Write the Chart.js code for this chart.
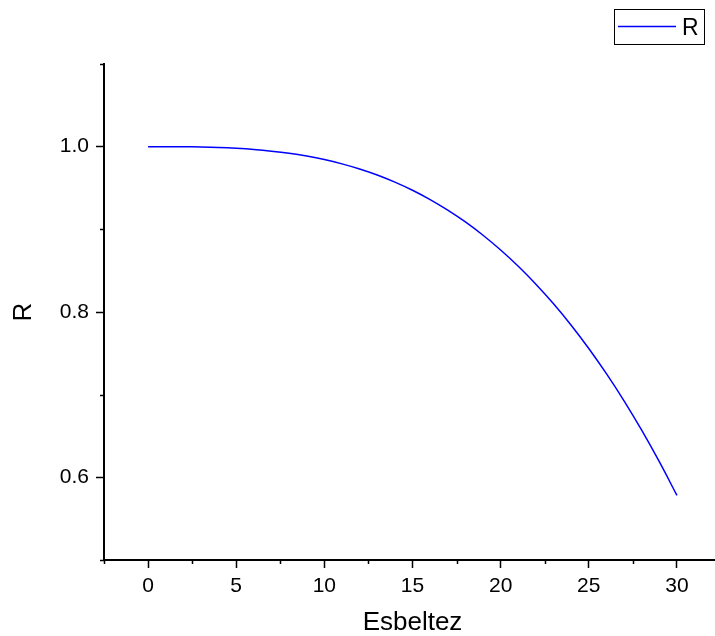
<!DOCTYPE html>
<html>
<head>
<meta charset="utf-8">
<script src="https://cdn.jsdelivr.net/npm/chart.js@4/dist/chart.umd.min.js"></script>
<style>
  html, body { margin: 0; padding: 0; background: #fff; overflow: hidden; }
  #wrap { width: 730px; height: 636px; }
</style>
</head>
<body>
<div id="wrap"><canvas id="rChart" width="730" height="636"></canvas></div>
<script>
// --- Data ---
const seriesName = 'R';
const esbeltez = [0, 1, 2, 3, 4, 5, 6, 7, 8, 9, 10, 11, 12, 13, 14, 15, 16, 17, 18, 19, 20,
                  21, 22, 23, 24, 25, 26, 27, 28, 29, 30];
const rValues = [1.0000, 1.0000, 0.9999, 0.9996, 0.9990, 0.9980, 0.9966, 0.9946, 0.9920, 0.9886,
                 0.9844, 0.9792, 0.9730, 0.9657, 0.9571, 0.9473, 0.9360, 0.9232, 0.9089, 0.8928,
                 0.8750, 0.8553, 0.8336, 0.8099, 0.7840, 0.7559, 0.7254, 0.6925, 0.6570, 0.6189,
                 0.5781];
const xMajorLabels = [0, 5, 10, 15, 20, 25, 30];
const yMajorLabels = ['0.6', '0.8', '1.0'];

const FONT = '"Liberation Sans", Arial, sans-serif';

// --- Helpers ---
function isXMajor(v) {
    return xMajorLabels.includes(Math.round(v * 10) / 10);
}
function isYMajor(v) {
    return yMajorLabels.includes(v.toFixed(1));
}

// --- Plugin: short minor ticks + boxed legend ---
const extrasPlugin = {
    id: 'extras',
    afterDraw(chart) {
        const ctx = chart.ctx;
        const xs = chart.scales.x;
        const ys = chart.scales.y;
        ctx.save();
        ctx.strokeStyle = '#000';
        ctx.lineWidth = 1.5;
        xs.ticks.forEach(t => {
            if (isXMajor(t.value)) return;
            const px = Math.round(xs.getPixelForValue(t.value)) + 0.5;
            ctx.beginPath();
            ctx.moveTo(px, ys.bottom);
            ctx.lineTo(px, ys.bottom + 4);
            ctx.stroke();
        });
        ys.ticks.forEach(t => {
            if (isYMajor(t.value)) return;
            const py = Math.round(ys.getPixelForValue(t.value)) + 0.5;
            ctx.beginPath();
            ctx.moveTo(xs.left, py);
            ctx.lineTo(xs.left - 4, py);
            ctx.stroke();
        });

        // legend box
        const ds = chart.data.datasets[0];
        ctx.lineWidth = 1;
        ctx.strokeRect(614.5, 9.5, 90, 35);
        ctx.strokeStyle = ds.borderColor;
        ctx.lineWidth = 1.5;
        ctx.beginPath();
        ctx.moveTo(618, 26.5);
        ctx.lineTo(676, 26.5);
        ctx.stroke();
        ctx.fillStyle = '#000';
        ctx.font = '23px ' + FONT;
        ctx.textBaseline = 'alphabetic';
        ctx.fillText(ds.label, 682, 35);
        ctx.restore();
    }
};

const ctx = document.getElementById('rChart').getContext('2d');
const rChart = new Chart(ctx, {
    type: 'line',
    data: {
        labels: esbeltez,
        datasets: [{
            label: seriesName,
            data: esbeltez.map((x, i) => ({ x: x, y: rValues[i] })),
            borderColor: '#0000ff',
            borderWidth: 1.5,
            pointRadius: 0,
            fill: false,
            tension: 0.4
        }]
    },
    options: {
        responsive: false,
        animation: false,
        layout: { padding: { top: 64, left: 0, right: 9, bottom: 0 } },
        plugins: {
            legend: { display: false },
            tooltip: { enabled: false }
        },
        scales: {
            x: {
                type: 'linear',
                min: -2.5,
                max: 32.5,
                afterFit: s => { s.height = 76; },
                border: { display: true, color: '#000', width: 2 },
                grid: {
                    drawOnChartArea: false,
                    drawTicks: true,
                    tickLength: 8,
                    tickWidth: 1.5,
                    tickColor: c => (c.tick && isXMajor(c.tick.value)) ? '#000' : 'rgba(0,0,0,0)'
                },
                ticks: {
                    stepSize: 2.5,
                    padding: 6,
                    color: '#000',
                    font: { family: FONT, size: 21 },
                    maxRotation: 0,
                    autoSkip: false,
                    callback: v => isXMajor(v) ? String(Math.round(v)) : ''
                },
                title: {
                    display: true,
                    text: 'Esbeltez',
                    color: '#000',
                    font: { family: FONT, size: 26, lineHeight: 1 },
                    padding: { top: 0, bottom: 0 }
                }
            },
            y: {
                min: 0.5,
                max: 1.1,
                afterFit: s => { s.width = 104; },
                border: { display: true, color: '#000', width: 2 },
                grid: {
                    drawOnChartArea: false,
                    drawTicks: true,
                    tickLength: 8,
                    tickWidth: 1.5,
                    tickColor: c => (c.tick && isYMajor(c.tick.value)) ? '#000' : 'rgba(0,0,0,0)'
                },
                ticks: {
                    stepSize: 0.1,
                    padding: 7,
                    color: '#000',
                    font: { family: FONT, size: 21 },
                    autoSkip: false,
                    callback: v => isYMajor(v) ? v.toFixed(1) : ''
                },
                title: {
                    display: true,
                    text: 'R',
                    color: '#000',
                    font: { family: FONT, size: 26, lineHeight: 1 },
                    padding: { top: 11, bottom: 0 }
                }
            }
        }
    },
    plugins: [extrasPlugin]
});
</script>
</body>
</html>
